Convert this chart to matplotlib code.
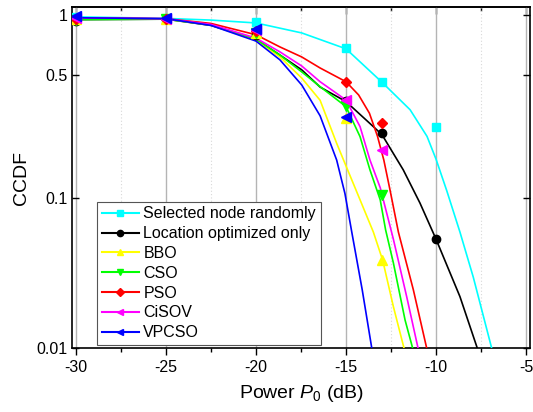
import math
from statistics import NormalDist

import numpy as np
import matplotlib
matplotlib.use('Agg')
import matplotlib.pyplot as plt
from matplotlib.lines import Line2D
from matplotlib.ticker import FixedLocator, FixedFormatter, MultipleLocator, NullFormatter

plt.rcParams['font.family'] = ['Liberation Sans', 'DejaVu Sans']
plt.rcParams['mathtext.fontset'] = 'custom'
plt.rcParams['mathtext.rm'] = 'Liberation Sans'
plt.rcParams['mathtext.it'] = 'Liberation Sans:italic'
plt.rcParams['axes.unicode_minus'] = False

# ---- data (x in dB, y = CCDF) ----
labels = ['Selected node randomly', 'Location optimized only', 'BBO', 'CSO',
          'PSO', 'CiSOV', 'VPCSO']
colors = ['#00ffff', '#000000', '#ffff00', '#00ff00', '#ff0000', '#ff00ff', '#0000ff']
markers = ['s', 'o', '^', 'v', 'D', '<', '<']
msizes = [5.5, 6, 7, 7, 5.5, 7, 7]

# smooth curves
rand_cx = [-30, -25, -22.5, -20, -17.46, -15, -13, -11.44, -10.5, -10, -9.4, -8.67, -7.93, -6.91]
rand_cy = [0.98, 0.963, 0.945, 0.915, 0.817, 0.68, 0.456, 0.324, 0.23, 0.17, 0.11, 0.061, 0.031, 0.01]
loc_cx = [-30, -25, -22.5, -20, -18.67, -17.46, -16.44, -15, -13.48, -13, -11.82, -10.89, -10, -8.67, -7.71]
loc_cy = [0.95, 0.955, 0.89, 0.76, 0.632, 0.53, 0.43, 0.359, 0.261, 0.235, 0.147, 0.0926, 0.055, 0.0229, 0.01]
bbo_cx = [-30, -25, -22.5, -20, -18.67, -17.46, -16.44, -15.52, -15, -14.22, -13.48, -12.96, -12.37, -11.78]
bbo_cy = [0.96, 0.955, 0.895, 0.75, 0.618, 0.48, 0.365, 0.21, 0.155, 0.097, 0.061, 0.040, 0.0196, 0.01]
cso_cx = [-30, -25, -22.5, -20, -18.67, -17.46, -16.44, -15, -14.22, -13.67, -13.1, -12.8, -12.37, -11.72, -11.3]
cso_cy = [0.95, 0.955, 0.895, 0.76, 0.632, 0.517, 0.432, 0.337, 0.229, 0.147, 0.097, 0.063, 0.0386, 0.0158, 0.01]
pso_cx = [-30, -25, -22.5, -20, -18.67, -17.46, -16.44, -15, -14.3, -13.7, -13.25, -12.9, -12.56, -12.09, -11.26, -10.52]
pso_cy = [0.97, 0.96, 0.91, 0.80, 0.695, 0.618, 0.542, 0.459, 0.39, 0.31, 0.23, 0.168, 0.112, 0.061, 0.0255, 0.01]
cisov_cx = [-30, -25, -22.5, -20, -18.67, -17.46, -16.44, -15, -14.22, -13.67, -13.1, -12.37, -11.63, -11.0]
cisov_cy = [0.97, 0.96, 0.90, 0.77, 0.656, 0.555, 0.459, 0.366, 0.261, 0.168, 0.115, 0.055, 0.0229, 0.01]
vpcso_cx = [-30, -25, -22.5, -20, -18.67, -17.46, -16.44, -15.52, -15.06, -14.68, -14.1, -13.57]
vpcso_cy = [0.97, 0.96, 0.89, 0.744, 0.597, 0.441, 0.30, 0.168, 0.106, 0.061, 0.0255, 0.01]

# simulated points (markers)
rand_mx = [-30, -25, -20, -15, -13, -10]
rand_my = [0.98, 0.96, 0.926, 0.69, 0.457, 0.26]
loc_mx = [-30, -25, -20, -15, -13, -10]
loc_my = [0.94, 0.96, 0.80, 0.36, 0.24, 0.055]
bbo_mx = [-30, -25, -20, -15, -13]
bbo_my = [0.96, 0.96, 0.82, 0.29, 0.040]
cso_mx = [-30, -25, -20, -15, -13]
cso_my = [0.95, 0.96, 0.82, 0.34, 0.104]
pso_mx = [-30, -25, -20, -15, -13]
pso_my = [0.96, 0.96, 0.835, 0.457, 0.273]
cisov_mx = [-30, -25, -20, -15, -13]
cisov_my = [0.97, 0.96, 0.845, 0.366, 0.192]
vpcso_mx = [-30, -25, -20, -15]
vpcso_my = [0.99, 0.965, 0.854, 0.297]

curves = [(rand_cx, rand_cy), (loc_cx, loc_cy), (bbo_cx, bbo_cy), (cso_cx, cso_cy),
          (pso_cx, pso_cy), (cisov_cx, cisov_cy), (vpcso_cx, vpcso_cy)]
points = [(rand_mx, rand_my), (loc_mx, loc_my), (bbo_mx, bbo_my), (cso_mx, cso_my),
          (pso_mx, pso_my), (cisov_mx, cisov_my), (vpcso_mx, vpcso_my)]

# probability (probit) axis, values taken as percent like Origin does
_nd = NormalDist()
_inv_cdf = np.vectorize(_nd.inv_cdf, otypes=[float])
_erf = np.vectorize(math.erf, otypes=[float])


def prob_fwd(v):
    v = np.clip(np.asarray(v, dtype=float) / 100.0, 1e-12, 1 - 1e-12)
    return _inv_cdf(v)


def prob_inv(z):
    z = np.asarray(z, dtype=float)
    return 100.0 * 0.5 * (1.0 + _erf(z / math.sqrt(2.0)))


fig = plt.figure(figsize=(5.33, 4.12), dpi=100)
ax = fig.add_axes([0.1351, 0.1553, 0.8593, 0.8277])
ax.set_yscale('function', functions=(prob_fwd, prob_inv))

for (cx, cy), c in zip(curves, colors):
    ax.plot(cx, cy, color=c, lw=1.2, zorder=3, solid_joinstyle='round')
for (mx, my), c, m, ms in zip(points, colors, markers, msizes):
    ax.plot(mx, my, linestyle='none', marker=m, ms=ms, color=c, mec=c, zorder=4)

ax.set_xlim(-30.222, -4.778)
ax.set_ylim(0.01, 1.093)

ax.xaxis.set_major_locator(MultipleLocator(5))
ax.xaxis.set_minor_locator(MultipleLocator(2.5))
ax.yaxis.set_major_locator(FixedLocator([0.01, 0.1, 0.5, 1]))
ax.yaxis.set_major_formatter(FixedFormatter(['0.01', '0.1', '0.5', '1']))
ax.yaxis.set_minor_locator(FixedLocator([]))

ax.grid(True, which='major', axis='x', color='#b4b4b4', lw=1.0)
ax.grid(True, which='minor', axis='x', color='#d8d8d8', lw=0.8, ls=(0, (1, 2)))
ax.set_axisbelow(True)

ax.tick_params(axis='x', which='both', bottom=True, top=False, labelsize=11.5, width=1.0)
ax.tick_params(axis='x', which='major', direction='out', length=5)
ax.tick_params(axis='x', which='minor', direction='out', length=3)
ax.tick_params(axis='y', which='both', left=True, right=True, direction='in',
               length=5, width=1.0, labelsize=11.5)

# top axis: mirrored ticks pointing inward
top = ax.secondary_xaxis('top')
top.xaxis.set_major_locator(MultipleLocator(5))
top.xaxis.set_minor_locator(MultipleLocator(2.5))
top.xaxis.set_major_formatter(NullFormatter())
top.tick_params(axis='x', which='major', direction='in', length=5, width=1.0)
top.tick_params(axis='x', which='minor', direction='in', length=3, width=1.0)
top.spines['top'].set_linewidth(1.2)

for s in ax.spines.values():
    s.set_linewidth(1.2)

ax.set_xlabel('Power $\\mathit{P_0}$ (dB)', fontsize=14, labelpad=6)
ax.set_ylabel('CCDF', fontsize=14, labelpad=4)

handles = [Line2D([], [], color=c, lw=1.5, marker=m, ms=4.5, mec=c)
           for c, m in zip(colors, markers)]
leg = ax.legend(handles, labels, loc='lower left', bbox_to_anchor=(0.0546, 0.0088),
                borderaxespad=0, fontsize=11.5, handlelength=2.3, handletextpad=0.3,
                labelspacing=0.3, borderpad=0.3, fancybox=False, framealpha=1,
                edgecolor='#555555')
leg.get_frame().set_linewidth(0.8)
leg.set_zorder(5)

fig.savefig('out.png', dpi=100)
